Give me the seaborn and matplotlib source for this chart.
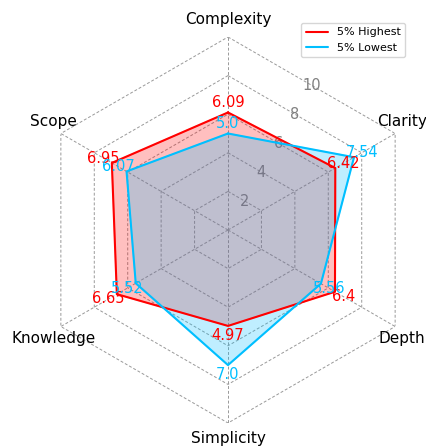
import numpy as np
import pandas as pd
import matplotlib
matplotlib.use("Agg")
import matplotlib.pyplot as plt
import seaborn as sns

# data
categories = ["Complexity", "Clarity", "Depth", "Simplicity", "Knowledge", "Scope"]
highest = [6.09, 6.42, 6.4, 4.97, 6.65, 6.95]
lowest = [5.0, 7.54, 5.56, 7.0, 5.52, 6.07]
groups = ["5% Highest", "5% Lowest"]
r_ticks = [2, 4, 6, 8, 10]

colors = {"5% Highest": "#ff0000", "5% Lowest": "#00bfff"}

n = len(categories)
angles = np.linspace(0, 2 * np.pi, n, endpoint=False)

# long table, closed polygons
rows = []
for g, vals in zip(groups, [highest, lowest]):
    for i in range(n + 1):
        rows.append({"group": g, "theta": angles[i % n] if i < n else 2 * np.pi,
                     "value": vals[i % n]})
df = pd.DataFrame(rows)

sns.set_style("white")
fig = plt.figure(figsize=(4.27, 4.48), dpi=100)
ax = fig.add_axes([35 / 427, 25 / 448, 386 / 427, 386 / 448], projection="polar")
ax.set_theta_offset(np.pi / 2)
ax.set_theta_direction(-1)
ax.set_ylim(0, 10)

# hexagon grid
ax.grid(False)
ax.spines["polar"].set_visible(False)
ax.set_yticks([])
grid_kw = dict(color="#999999", lw=0.7, ls=(0, (3, 2)), zorder=1)
closed = np.append(angles, angles[0])
for r in r_ticks:
    ax.plot(closed, [r] * (n + 1), **grid_kw)
for a in angles:
    ax.plot([a, a], [0, 10], **grid_kw)
for r in r_ticks:
    ax.text(np.pi / 6, r * np.cos(np.pi / 6), str(r), color="grey",
            fontsize=10.5, ha="center", va="center", zorder=2)

# fills then lines
for g in groups:
    sub = df[df.group == g]
    ax.fill(sub.theta, sub.value, color=colors[g], alpha=0.25, zorder=3)
sns.lineplot(data=df, x="theta", y="value", hue="group", palette=colors,
             sort=False, estimator=None, lw=1.5, ax=ax, zorder=4)

# value labels
for g, vals in zip(groups, [highest, lowest]):
    for a, v in zip(angles, vals):
        ax.text(a, v + 0.5, f"{v}", color=colors[g], fontsize=10.5,
                ha="center", va="center", zorder=5)

# category labels, nudged off the outer vertices
ax.set_xticks(angles)
ax.set_xticklabels([])
for a, c in zip(angles, categories):
    sx, sy = np.sin(a), np.cos(a)
    if abs(sx) < 0.1:
        off = (0, 18 if sy > 0 else -16)
    else:
        off = (7 * np.sign(sx), 12 * np.sign(sy))
    ax.annotate(c, xy=(a, 10), xytext=off, textcoords="offset pixels",
                fontsize=11, color="black", ha="center", va="center")
ax.set_xlabel("")
ax.set_ylabel("")

ax.get_legend().remove()
handles, labels = ax.get_legend_handles_labels()
fig.legend(handles, labels, loc="upper right", bbox_to_anchor=(405 / 427, 1 - 23 / 448),
           borderaxespad=0, fontsize=8, frameon=True, labelcolor="black")

fig.savefig("out.png", dpi=100)
